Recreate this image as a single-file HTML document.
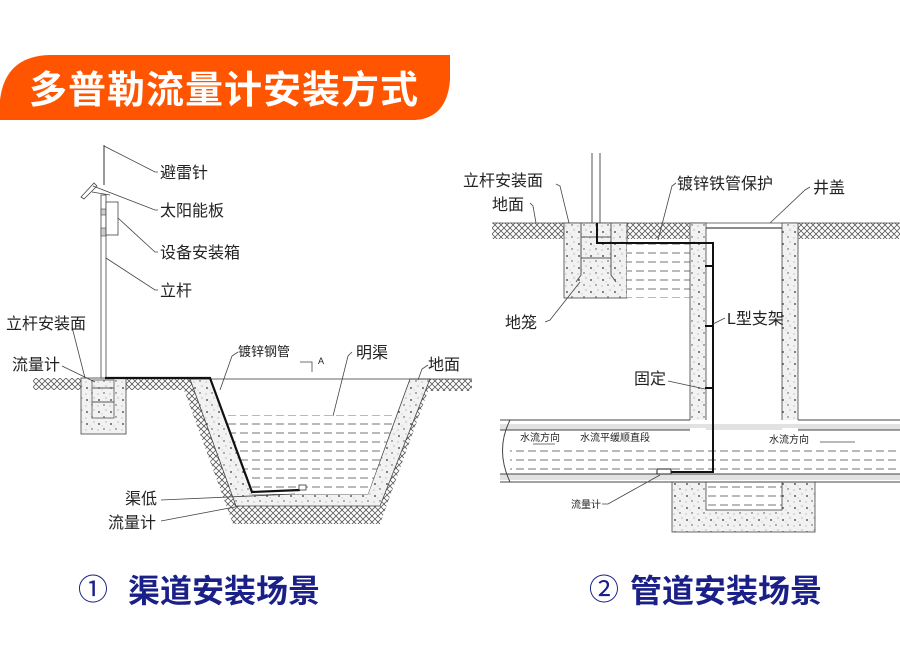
<!DOCTYPE html>
<html><head><meta charset="utf-8"><style>
html,body{margin:0;padding:0;background:#fff;width:900px;height:647px;overflow:hidden}
svg{display:block}
text{font-family:"Liberation Sans","Noto Sans CJK SC",sans-serif;fill:#222}
</style></head><body>
<svg width="900" height="647" viewBox="0 0 900 647" xmlns="http://www.w3.org/2000/svg">
<defs>
<pattern id="hatch" width="6" height="6" patternUnits="userSpaceOnUse">
<rect width="6" height="6" fill="#fff"/>
<path d="M0 0L3 3M3 3L0 6M3 3L6 0M3 3L6 6" stroke="#555" stroke-width="0.8" fill="none"/>
</pattern>
<pattern id="conc" width="12" height="12" patternUnits="userSpaceOnUse">
<rect width="12" height="12" fill="#f2f2f2"/>
<circle cx="3" cy="4" r="0.9" fill="#333"/><circle cx="10" cy="2" r="0.5" fill="#666"/>
<circle cx="8" cy="9" r="0.7" fill="#444"/><circle cx="2" cy="10" r="0.5" fill="#777"/>
<circle cx="6" cy="6" r="0.4" fill="#888"/>
</pattern>
<pattern id="water" width="12" height="9" patternUnits="userSpaceOnUse">
<rect width="12" height="9" fill="#fff"/>
<line x1="0" y1="1" x2="8" y2="1" stroke="#666" stroke-width="0.9"/>
</pattern>
</defs>

<path d="M0 120 L0 100 Q5 56 50 55 L450 55 L450 80 Q447 118 415 120 Z" fill="#FF5500"/>
<text x="29" y="103" font-size="38" font-weight="bold" style="fill:#fff" letter-spacing="1">多普勒流量计安装方式</text>

<rect x="33" y="378" width="155" height="12" fill="url(#hatch)"/>
<polygon points="180,379 205,379 252,494 368,494 410,379 472,379 472,391 428,391 380,524 233,524" fill="url(#hatch)"/>
<polygon points="190,379 210,379 252,494 368,494 410,379 430,379 380,506 236,506" fill="url(#conc)" stroke="#444" stroke-width="0.8"/>
<polygon points="225,415 396,415 368,494 252,494" fill="url(#water)"/>
<line x1="188" y1="379" x2="472" y2="379" stroke="#333" stroke-width="0.8" />
<rect x="81" y="378" width="45" height="56" fill="url(#conc)" stroke="#444" stroke-width="0.8"/>
<rect x="92" y="380" width="22" height="38" fill="none" stroke="#555" stroke-width="0.8"/>
<line x1="92" y1="388" x2="114" y2="388" stroke="#555"/><line x1="92" y1="402" x2="114" y2="402" stroke="#555"/>
<line x1="104" y1="145" x2="104" y2="185" stroke="#333" stroke-width="1"/>
<rect x="101" y="195" width="5" height="183" fill="#fff" stroke="#444" stroke-width="0.8"/>
<rect x="101" y="209" width="5" height="6" fill="#ccc" stroke="#444" stroke-width="0.6"/>
<rect x="101" y="228" width="5" height="8" fill="#ccc" stroke="#444" stroke-width="0.6"/>
<rect x="106" y="202" width="12" height="33" fill="#fff" stroke="#444" stroke-width="0.8"/>
<path d="M81 197 L94 183 L97 186 L84 199 Z" fill="#fff" stroke="#444" stroke-width="0.8"/>
<path d="M92 192 L110 195" stroke="#444" stroke-width="0.8"/>
<polyline points="105,378 210,378 252,492 300,490" fill="none" stroke="#111" stroke-width="2.2"/>
<rect x="299" y="485" width="7" height="5" fill="#fff" stroke="#333" stroke-width="0.8"/>
<g stroke="#444" stroke-width="0.8" fill="none">
<polyline points="104,146 155,172 158,172"/>
<polyline points="93,186 155,210 158,210"/>
<polyline points="118,218 155,252 158,252"/>
<polyline points="106,258 155,290 158,290"/>
<polyline points="72,327 85,378"/>
<polyline points="62,366 95,382"/>
<polyline points="238,352 232,356 220,390"/>
<polyline points="352,352 348,356 333,416"/>
<polyline points="428,365 422,369 418,380"/>
<polyline points="161,500 295,494"/>
<polyline points="161,521 240,506"/>
<polyline points="300,362 312,362 312,372"/>
</g>
<text x="318" y="364" font-size="9" font-family="Liberation Serif">A</text>
<g font-size="16">
<text x="160" y="178">避雷针</text>
<text x="160" y="216">太阳能板</text>
<text x="160" y="258">设备安装箱</text>
<text x="160" y="296">立杆</text>
<text x="6" y="329">立杆安装面</text>
<text x="12" y="370">流量计</text>
<text x="356" y="358">明渠</text>
<text x="428" y="370">地面</text>
<text x="125" y="504">渠低</text>
<text x="108" y="528">流量计</text>
</g>
<text x="238" y="356" font-size="13">镀锌钢管</text>

<rect x="492" y="223" width="72" height="16" fill="url(#hatch)"/>
<rect x="627" y="223" width="63" height="16" fill="url(#hatch)"/>
<rect x="798" y="223" width="102" height="16" fill="url(#hatch)"/>
<line x1="492" y1="223" x2="900" y2="223" stroke="#444" stroke-width="0.8"/>
<rect x="564" y="223" width="63" height="75" fill="url(#conc)" stroke="#444" stroke-width="0.8"/>
<rect x="627" y="243" width="63" height="55" fill="url(#water)"/>
<path d="M581 223 V275 L576 282 M611 223 V275 L616 282" stroke="#555" fill="none"/>
<line x1="581" y1="237" x2="611" y2="237" stroke="#555"/><line x1="581" y1="258" x2="611" y2="258" stroke="#555"/>
<line x1="592" y1="153" x2="592" y2="223" stroke="#555"/><line x1="600" y1="153" x2="600" y2="223" stroke="#555"/>
<rect x="690" y="223" width="16" height="205" fill="url(#conc)" stroke="#444" stroke-width="0.8"/>
<rect x="782" y="223" width="16" height="205" fill="url(#conc)" stroke="#444" stroke-width="0.8"/>
<line x1="706" y1="228" x2="782" y2="228" stroke="#444" stroke-width="1.2"/>
<rect x="672" y="482" width="143" height="50" fill="url(#conc)" stroke="#444" stroke-width="0.8"/>
<rect x="706" y="482" width="76" height="28" fill="url(#water)" stroke="#444" stroke-width="0.8"/>
<rect x="500" y="420" width="400" height="62" fill="#fff"/>
<rect x="500" y="424" width="400" height="6" fill="#e2e2e2"/>
<rect x="500" y="474" width="400" height="6" fill="#e2e2e2"/>
<rect x="510" y="447" width="390" height="26" fill="url(#water)"/>
<line x1="500" y1="420" x2="690" y2="420" stroke="#444"/><line x1="798" y1="420" x2="900" y2="420" stroke="#444"/>
<line x1="500" y1="430" x2="690" y2="430" stroke="#444"/><line x1="798" y1="430" x2="900" y2="430" stroke="#444"/>
<line x1="500" y1="474" x2="900" y2="474" stroke="#444"/><line x1="500" y1="482" x2="900" y2="482" stroke="#444"/>
<path d="M510 420 Q495 450 510 482" fill="none" stroke="#444"/>
<rect x="690" y="428" width="16" height="3" fill="#fff"/><rect x="782" y="428" width="16" height="3" fill="#fff"/>
<polyline points="597,223 597,243 713,243 713,472 660,472" fill="none" stroke="#111" stroke-width="2"/>
<path d="M705 266 H713 M705 326 H713 M705 388 H713" stroke="#111" stroke-width="2"/>
<rect x="657" y="469" width="14" height="5" fill="#fff" stroke="#222"/>
<g stroke="#444" stroke-width="0.8" fill="none">
<polyline points="556,184 560,186 569,223"/>
<polyline points="530,203 533,206 536,223"/>
<polyline points="676,183 672,186 658,240"/>
<polyline points="810,187 805,190 770,223"/>
<polyline points="545,322 550,320 580,282"/>
<polyline points="725,318 713,324"/>
<polyline points="668,381 705,389"/>
<polyline points="602,504 608,504 660,475"/>
<polyline points="533,444 555,444"/>
<polyline points="820,442 855,442"/>
</g>
<g font-size="16">
<text x="463" y="186">立杆安装面</text>
<text x="492" y="210">地面</text>
<text x="677" y="189">镀锌铁管保护</text>
<text x="813" y="193">井盖</text>
<text x="505" y="328">地笼</text>
<text x="727" y="324">L型支架</text>
<text x="634" y="384">固定</text>
</g>
<g font-size="10">
<text x="520" y="441">水流方向</text>
<text x="580" y="441">水流平缓顺直段</text>
<text x="769" y="443">水流方向</text>
<text x="571" y="508">流量计</text>
</g>

<text x="78" y="600" style="fill:#1a2088" font-size="30">①</text>
<text x="128" y="602" style="fill:#1a2088" font-size="32" font-weight="bold">渠道安装场景</text>
<text x="589" y="600" style="fill:#1a2088" font-size="30">②</text>
<text x="630" y="602" style="fill:#1a2088" font-size="32" font-weight="bold">管道安装场景</text>
</svg>
</body></html>
